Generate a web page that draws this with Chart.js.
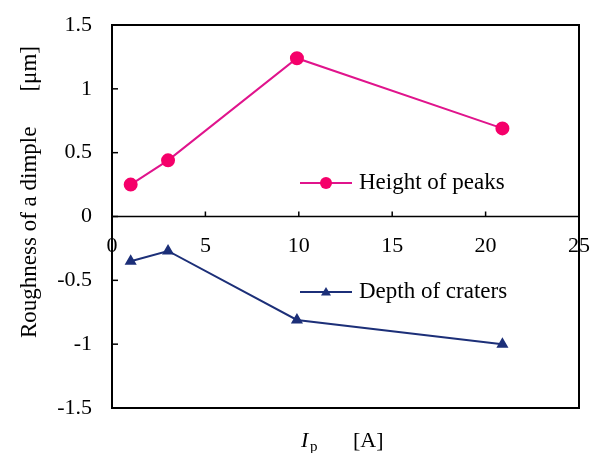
<!DOCTYPE html>
<html lang="en">
<head>
<meta charset="UTF-8"/>
<title>Roughness of a dimple</title>
<script src="https://cdn.jsdelivr.net/npm/chart.js"></script>
<style>
  html, body { margin: 0; padding: 0; background: #fff; }
  #wrap { width: 598px; height: 453px; }
</style>
</head>
<body>
<div id="wrap"><canvas id="chart"></canvas></div>
<script>
// values
const currentA = [1.0, 3.0, 9.9, 20.9];
const peakHeight = [0.25, 0.44, 1.24, 0.69];
const craterDepth = [-0.35, -0.27, -0.81, -1.0];
const xTicks = [0, 5, 10, 15, 20, 25];
const yTicks = [1.5, 1, 0.5, 0, -0.5, -1, -1.5];
const seriesNames = ["Height of peaks", "Depth of craters"];

const serif = '"Liberation Serif", "Times New Roman", serif';
const pink = "#e0148c";
const pinkDot = "#f5006a";
const navy = "#1c2f78";

function toPoints(xs, ys) {
  return xs.map((x, i) => ({ x: x, y: ys[i] }));
}

// frame, axis at zero, ticks, labels, legend, titles
const decor = {
  id: "decor",
  afterDatasetsDraw(chart) {
    const ctx = chart.ctx;
    const a = chart.chartArea;
    const xs = chart.scales.x, ys = chart.scales.y;
    const y0 = ys.getPixelForValue(0);
    ctx.save();
    ctx.strokeStyle = "#000";
    ctx.lineWidth = 2;
    ctx.strokeRect(a.left, a.top, a.right - a.left, a.bottom - a.top);
    ctx.lineWidth = 1.5;
    ctx.beginPath();
    ctx.moveTo(a.left, y0); ctx.lineTo(a.right, y0);
    ctx.stroke();
    // y ticks (inward)
    ctx.font = "22px " + serif;
    ctx.fillStyle = "#000";
    ctx.textAlign = "right";
    ctx.textBaseline = "middle";
    yTicks.forEach(v => {
      const py = ys.getPixelForValue(v);
      ctx.beginPath();
      ctx.moveTo(a.left, py); ctx.lineTo(a.left + 6, py);
      ctx.stroke();
      ctx.fillText(String(v), a.left - 20, py);
    });
    // x ticks (upward from zero line)
    ctx.textAlign = "center";
    xTicks.forEach(v => {
      const px = xs.getPixelForValue(v);
      ctx.beginPath();
      ctx.moveTo(px, y0); ctx.lineTo(px, y0 - 5);
      ctx.stroke();
      ctx.fillText(String(v), px, y0 + 30);
    });
    // legend
    const legend = [
      { name: seriesNames[0], color: pink, dot: pinkDot, style: "circle", r: 6, y: 183 },
      { name: seriesNames[1], color: navy, dot: navy, style: "triangle", r: 5, y: 292 }
    ];
    ctx.font = "23px " + serif;
    ctx.textAlign = "left";
    legend.forEach(l => {
      ctx.strokeStyle = l.color;
      ctx.lineWidth = 2;
      ctx.beginPath();
      ctx.moveTo(300, l.y); ctx.lineTo(352, l.y);
      ctx.stroke();
      ctx.fillStyle = l.dot;
      ctx.beginPath();
      if (l.style === "circle") {
        ctx.arc(326, l.y, l.r, 0, Math.PI * 2);
      } else {
        ctx.moveTo(326, l.y - l.r);
        ctx.lineTo(326 + l.r, l.y + l.r * 0.7);
        ctx.lineTo(326 - l.r, l.y + l.r * 0.7);
        ctx.closePath();
      }
      ctx.fill();
      ctx.fillStyle = "#000";
      ctx.fillText(l.name, 359, l.y);
    });
    // y axis title
    ctx.save();
    ctx.translate(36, 0);
    ctx.rotate(-Math.PI / 2);
    ctx.textBaseline = "alphabetic";
    ctx.textAlign = "left";
    ctx.fillText("Roughness of a dimple", -338, 0);
    ctx.textAlign = "right";
    ctx.fillText("[\u03bcm]", -46, 0);
    ctx.restore();
    // x axis title
    ctx.textBaseline = "alphabetic";
    ctx.textAlign = "left";
    ctx.font = "italic 22px " + serif;
    ctx.fillText("I", 301, 447);
    ctx.font = "15px " + serif;
    ctx.fillText("p", 310, 451);
    ctx.font = "22px " + serif;
    ctx.fillText("[A]", 353, 447);
    ctx.restore();
  }
};

new Chart(document.getElementById("chart"), {
  type: "scatter",
  data: {
    datasets: [
      {
        label: seriesNames[0],
        data: toPoints(currentA, peakHeight),
        showLine: true,
        borderColor: pink,
        borderWidth: 2,
        pointBackgroundColor: pinkDot,
        pointBorderColor: pinkDot,
        pointRadius: 6,
        pointStyle: "circle"
      },
      {
        label: seriesNames[1],
        data: toPoints(currentA, craterDepth),
        showLine: true,
        borderColor: navy,
        borderWidth: 2,
        pointBackgroundColor: navy,
        pointBorderColor: navy,
        pointRadius: 5,
        pointStyle: "triangle"
      }
    ]
  },
  options: {
    responsive: true,
    maintainAspectRatio: false,
    animation: false,
    layout: { padding: { left: 112, right: 19, top: 25, bottom: 45 } },
    plugins: { legend: { display: false }, tooltip: { enabled: false } },
    scales: {
      x: { type: "linear", min: 0, max: 25, display: false },
      y: { type: "linear", min: -1.5, max: 1.5, display: false }
    }
  },
  plugins: [decor]
});
</script>
</body>
</html>
